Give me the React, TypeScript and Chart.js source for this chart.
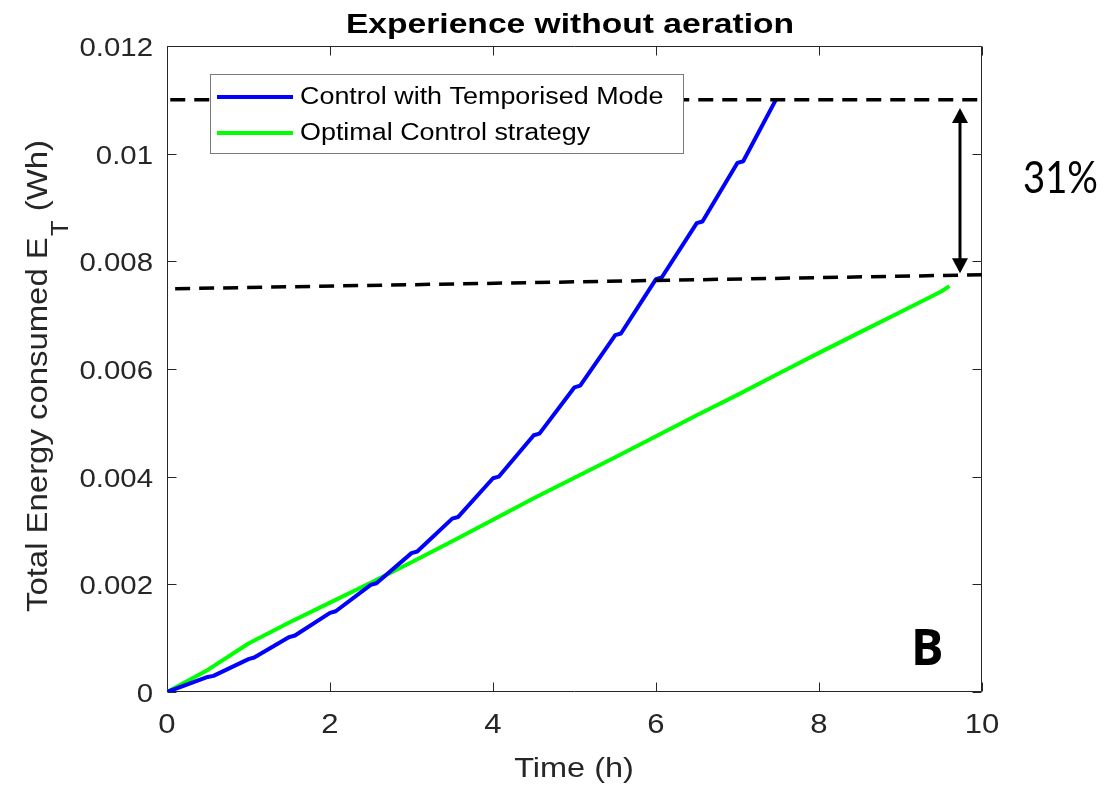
import { useEffect, useRef } from "react";
import { Chart, registerables } from "chart.js";

Chart.register(...registerables);

// ---- Data -----------------------------------------------------------------
const TITLE = "Experience without aeration";
const X_LABEL = "Time (h)";
const Y_LABEL_MAIN = "Total Energy consumed E";
const Y_LABEL_SUB = "T";
const Y_LABEL_UNIT = " (Wh)";

const X_TICKS = [0, 2, 4, 6, 8, 10];
const X_TICK_LABELS = ["0", "2", "4", "6", "8", "10"];
const Y_TICKS = [0, 0.002, 0.004, 0.006, 0.008, 0.01, 0.012];
const Y_TICK_LABELS = ["0", "0.002", "0.004", "0.006", "0.008", "0.01", "0.012"];

// Control with temporised mode (small flat steps every half hour)
const TIME_TEMPORISED = [
  0, 0.5, 0.57, 1.0, 1.07, 1.5, 1.57, 2.0, 2.07, 2.5, 2.57, 3.0, 3.07, 3.5, 3.57,
  4.0, 4.07, 4.5, 4.57, 5.0, 5.07, 5.5, 5.57, 6.0, 6.07, 6.5, 6.57, 7.0, 7.07, 7.47,
];
const ENERGY_TEMPORISED = [
  0, 0.00028, 0.0003, 0.00061, 0.00064, 0.00102, 0.00105, 0.00147, 0.0015, 0.00199,
  0.00202, 0.00258, 0.00261, 0.00322, 0.00325, 0.00397, 0.004, 0.00477, 0.0048,
  0.00566, 0.00569, 0.00663, 0.00666, 0.00767, 0.0077, 0.00871, 0.00874, 0.00983,
  0.00986, 0.011,
];

// Optimal control strategy
const TIME_OPTIMAL = [
  0, 0.5, 1.0, 1.5, 2.0, 2.5, 3.0, 3.5, 4.0, 4.5, 5.0, 5.5, 6.0, 6.5, 7.0, 7.5, 8.0,
  8.5, 9.0, 9.5, 9.6,
];
const ENERGY_OPTIMAL = [
  0, 0.00041, 0.0009, 0.00129, 0.00166, 0.00203, 0.00241, 0.0028, 0.0032, 0.0036,
  0.00398, 0.00436, 0.00475, 0.00514, 0.00552, 0.00591, 0.0063, 0.00668, 0.00706,
  0.00744, 0.00754,
];

// Reference levels (final energy of each strategy)
const LEVEL_HIGH_TIME = [0.04, 10];
const LEVEL_HIGH = [0.011, 0.011];
const LEVEL_LOW_TIME = [0.1, 10];
const LEVEL_LOW = [0.00749, 0.00775];

// Saving annotation
const ARROW_TIME = 9.73;
const ARROW_TOP = 0.01085;
const ARROW_BOTTOM = 0.00778;
const SAVING_TEXT = "31%";
const PANEL_TEXT = "B";

// ---- Styling --------------------------------------------------------------
const AXIS_COLOR = "#262626";
const FONT = "'Liberation Sans', Arial, Helvetica, sans-serif";
const SX = 1.15; // horizontal stretch applied to axis text

const toXY = (xs: number[], ys: number[]) => xs.map((x, i) => ({ x, y: ys[i] }));

function stretchedText(
  ctx: CanvasRenderingContext2D,
  text: string,
  x: number,
  y: number,
  font: string,
  align: CanvasTextAlign,
  baseline: CanvasTextBaseline,
  sx: number,
  color = AXIS_COLOR
) {
  ctx.save();
  ctx.font = font;
  ctx.fillStyle = color;
  ctx.textAlign = align;
  ctx.textBaseline = baseline;
  ctx.translate(x, y);
  ctx.scale(sx, 1);
  ctx.fillText(text, 0, 0);
  ctx.restore();
}

const framePlugin = {
  id: "matlabFrame",
  beforeDatasetsDraw(chart: any) {
    const { ctx, chartArea: a, scales } = chart;
    const xs = scales.x;
    const ys = scales.y;
    const L = Math.round(a.left) + 0.5;
    const R = Math.round(a.right) - 0.5;
    const T = Math.round(a.top) + 0.5;
    const B = Math.round(a.bottom) - 0.5;
    ctx.save();
    ctx.fillStyle = "#ffffff";
    ctx.fillRect(a.left, a.top, a.right - a.left, a.bottom - a.top);
    ctx.strokeStyle = AXIS_COLOR;
    ctx.lineWidth = 1;
    ctx.beginPath();
    ctx.rect(L, T, R - L, B - T);
    const tl = 9;
    X_TICKS.forEach((v) => {
      const px = Math.round(xs.getPixelForValue(v)) + 0.5;
      ctx.moveTo(px, B);
      ctx.lineTo(px, B - tl);
      ctx.moveTo(px, T);
      ctx.lineTo(px, T + tl);
    });
    Y_TICKS.forEach((v) => {
      const py = Math.round(ys.getPixelForValue(v)) + 0.5;
      ctx.moveTo(L, py);
      ctx.lineTo(L + tl, py);
      ctx.moveTo(R, py);
      ctx.lineTo(R - tl, py);
    });
    ctx.stroke();
    ctx.restore();
  },
  afterDatasetsDraw(chart: any) {
    const { ctx, chartArea: a, scales } = chart;
    const xs = scales.x;
    const ys = scales.y;

    // Legend
    const entries = chart.data.datasets.filter((d: any) => d.inLegend);
    const lx = 210.5;
    const ly = 74.5;
    const lw = 473;
    const lh = 79;
    ctx.save();
    ctx.fillStyle = "#ffffff";
    ctx.fillRect(lx, ly, lw, lh);
    ctx.strokeStyle = "#7a7a7a";
    ctx.lineWidth = 1;
    ctx.strokeRect(lx, ly, lw, lh);
    entries.forEach((d: any, i: number) => {
      const cy = 97 + i * 36;
      ctx.strokeStyle = d.borderColor;
      ctx.lineWidth = 4;
      ctx.beginPath();
      ctx.moveTo(217, cy);
      ctx.lineTo(293, cy);
      ctx.stroke();
      stretchedText(ctx, d.label, 300, cy + 1, `23px ${FONT}`, "left", "middle", 1.17, "#000");
    });
    ctx.restore();

    // Double arrow between the two final energy levels
    const ax = xs.getPixelForValue(ARROW_TIME);
    const at = ys.getPixelForValue(ARROW_TOP);
    const ab = ys.getPixelForValue(ARROW_BOTTOM);
    const hw = 8;
    const hh = 15;
    ctx.save();
    ctx.strokeStyle = "#000";
    ctx.fillStyle = "#000";
    ctx.lineWidth = 3;
    ctx.beginPath();
    ctx.moveTo(ax, at + hh - 1);
    ctx.lineTo(ax, ab - hh + 1);
    ctx.stroke();
    ctx.beginPath();
    ctx.moveTo(ax, at);
    ctx.lineTo(ax - hw, at + hh);
    ctx.lineTo(ax + hw, at + hh);
    ctx.closePath();
    ctx.fill();
    ctx.beginPath();
    ctx.moveTo(ax, ab);
    ctx.lineTo(ax - hw, ab - hh);
    ctx.lineTo(ax + hw, ab - hh);
    ctx.closePath();
    ctx.fill();
    ctx.restore();

    // Annotations
    const savingFont = `44px Lato, 'Open Sans', sans-serif`;
    ctx.save();
    ctx.font = savingFont;
    const w31 = ctx.measureText(SAVING_TEXT).width;
    ctx.restore();
    stretchedText(ctx, SAVING_TEXT, 1023, 193, savingFont, "left", "alphabetic", 75 / w31, "#000");
    stretchedText(ctx, PANEL_TEXT, 911, 665, `bold 51px 'Open Sans', sans-serif`, "left", "alphabetic", 0.95, "#000");

    // Tick labels
    X_TICKS.forEach((v, i) => {
      stretchedText(ctx, X_TICK_LABELS[i], xs.getPixelForValue(v), 733, `27px ${FONT}`, "center", "alphabetic", SX);
    });
    Y_TICKS.forEach((v, i) => {
      stretchedText(ctx, Y_TICK_LABELS[i], 153, ys.getPixelForValue(v) + 10, `26px ${FONT}`, "right", "alphabetic", 1.13);
    });

    // Title and axis labels
    const cx = (a.left + a.right) / 2;
    stretchedText(ctx, TITLE, 570, 33, `bold 28px ${FONT}`, "center", "alphabetic", 1.2, "#000");
    stretchedText(ctx, X_LABEL, 574, 777, `28px ${FONT}`, "center", "alphabetic", 1.16);

    // Rotated y label with subscript, fitted between y=612 and y=140
    ctx.save();
    ctx.fillStyle = AXIS_COLOR;
    ctx.font = `27px ${FONT}`;
    const w1 = ctx.measureText(Y_LABEL_MAIN).width;
    const w3 = ctx.measureText(Y_LABEL_UNIT).width;
    ctx.font = `21px ${FONT}`;
    const w2 = ctx.measureText(Y_LABEL_SUB).width;
    const along = 472 / (w1 + 1 + w2 + w3);
    ctx.translate(47, 612);
    ctx.rotate(-Math.PI / 2);
    ctx.scale(along, 1.12);
    ctx.textAlign = "left";
    ctx.textBaseline = "alphabetic";
    ctx.font = `27px ${FONT}`;
    ctx.fillText(Y_LABEL_MAIN, 0, 0);
    let off = w1 + 1;
    ctx.font = `21px ${FONT}`;
    ctx.fillText(Y_LABEL_SUB, off, 18.5);
    off += w2;
    ctx.font = `27px ${FONT}`;
    ctx.fillText(Y_LABEL_UNIT, off, 0);
    ctx.restore();
    void cx;
  },
};

export default function App() {
  const canvasRef = useRef<HTMLCanvasElement | null>(null);

  useEffect(() => {
    const canvas = canvasRef.current;
    if (!canvas) return;
    const dashed = {
      borderColor: "#000000",
      borderWidth: 3.5,
      borderDash: [15, 9],
      pointRadius: 0,
      fill: false,
      tension: 0,
    };
    const chart = new Chart(canvas, {
      type: "line",
      data: {
        datasets: [
          { label: "Final level (temporised)", data: toXY(LEVEL_HIGH_TIME, LEVEL_HIGH), ...dashed },
          { label: "Final level (optimal)", data: toXY(LEVEL_LOW_TIME, LEVEL_LOW), ...dashed },
          {
            label: "Control with Temporised Mode",
            data: toXY(TIME_TEMPORISED, ENERGY_TEMPORISED),
            borderColor: "#0000ff",
            borderWidth: 4,
            pointRadius: 0,
            tension: 0,
            fill: false,
            borderJoinStyle: "round",
            inLegend: true,
          } as any,
          {
            label: "Optimal Control strategy",
            data: toXY(TIME_OPTIMAL, ENERGY_OPTIMAL),
            borderColor: "#00ff00",
            borderWidth: 4,
            pointRadius: 0,
            tension: 0,
            fill: false,
            borderJoinStyle: "round",
            inLegend: true,
          } as any,
        ],
      },
      options: {
        animation: false,
        responsive: false,
        maintainAspectRatio: false,
        layout: { padding: { left: 0, right: 138, top: 46, bottom: 0 } },
        plugins: {
          legend: { display: false },
          tooltip: { enabled: false },
          title: { display: false },
        },
        scales: {
          x: {
            type: "linear",
            min: 0,
            max: 10,
            ticks: { display: false, stepSize: 2 },
            grid: { display: false },
            border: { display: false },
            afterFit: (s: any) => {
              s.height = 96;
            },
          },
          y: {
            type: "linear",
            min: 0,
            max: 0.012,
            ticks: { display: false, stepSize: 0.002 },
            grid: { display: false },
            border: { display: false },
            afterFit: (s: any) => {
              s.width = 167;
            },
          },
        },
      },
      plugins: [framePlugin],
    });
    return () => chart.destroy();
  }, []);

  return (
    <div style={{ position: "absolute", left: 0, top: 0, width: 1120, height: 788, background: "#fff" }}>
      <canvas ref={canvasRef} width={1120} height={788} style={{ display: "block" }} />
    </div>
  );
}
